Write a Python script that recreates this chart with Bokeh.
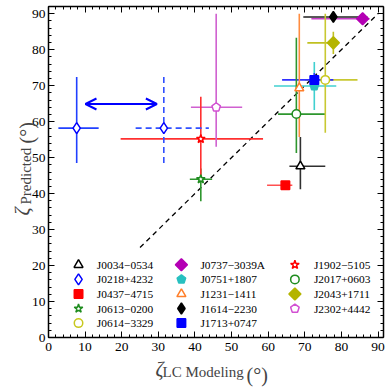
import numpy as np
from bokeh.plotting import figure
from bokeh.models import (Range1d, LinearAxis, SingleIntervalTicker, Arrow, OpenHead,
                          Label, CustomJSTickFormatter)
from bokeh.core.properties import value
from bokeh.embed import file_html
from bokeh.resources import INLINE

# ---------------- data ----------------
names = ["J0034\u22120534", "J0218+4232", "J0437\u22124715", "J0613\u22120200", "J0614\u22123329",
         "J0737\u22123039A", "J0751+1807", "J1231\u22121411", "J1614\u22122230", "J1713+0747",
         "J1902\u22125105", "J2017+0603", "J2043+1711", "J2302+4442"]
zeta_lc = [68.8, 7.7, 64.7, 41.6, 75.6, 85.8, 72.6, 68.5, 77.8, 72.6, 41.6, 67.7, 77.8, 45.8]
zeta_lc_lo = [65.8, 2.7, 59.7, 38.6, 70.0, 71.8, 61.6, 67.5, 69.6, 63.8, 19.7, 62.7, 70.7, 38.9]
zeta_lc_hi = [75.6, 13.7, 66.6, 44.7, 84.4, 87.7, 78.6, 69.5, 87.1, 77.8, 58.6, 75.6, 79.2, 52.9]
zeta_pred = [47.6, 58.2, 42.3, 44.0, 71.6, 88.6, 69.9, 69.3, 89.1, 71.6, 55.2, 62.1, 81.9, 64.0]
zeta_pred_lo = [41.2, 48.5, np.nan, 37.9, 56.9, np.nan, 63.2, 55.7, np.nan, 70.0, 44.0, 51.3, 78.8, 53.0]
zeta_pred_hi = [55.7, 72.4, np.nan, 47.0, 90.0, np.nan, 76.6, 90.0, np.nan, 73.5, 66.9, 83.3, 85.0, 90.0]

# alternative (dashed) solution for J0218+4232
alt_x, alt_x_lo, alt_x_hi = [31.5], [23.8], [43.8]
alt_y, alt_y_lo, alt_y_hi = [58.2], [48.5], [72.4]
arrow_x = [10.1, 29.6]
arrow_y = 64.9

diag = [25.0, 90.0]

colors = ["#000000", "#0000ff", "#ff0000", "#1e8c1e", "#c8c81e", "#b400b4", "#28c0c0",
          "#ff7f2a", "#000000", "#0000ff", "#ff0000", "#1e8c1e", "#b4b400", "#d250d2"]
bar_colors = ["#303030", "#2040ff", "#ff5050", "#2e962e", "#c8c832", "#c840c8", "#40d0d0",
              "#ff8c40", "#202020", "#3030ff", "#ff3030", "#2e962e", "#c0c020", "#d060d0"]
markers = ["triangle", "diamond", "square", "star", "circle", "rdiamond", "pentagon",
           "triangle", "diamond", "square", "star", "circle", "rdiamond", "pentagon"]
filled = [False, False, True, False, False, True, True, False, True, True, False, False, True, False]
sizes = [9, 11, 8.5, 9, 8.5, 8.5, 4.5, 9, 11, 8.5, 9, 8.5, 8.5, 4.5]

XMAX, YMAX = 91.5, 92.0
W, H = 390, 387
# plot box in canvas pixels
PL, PR, PT, PB = 48, 383, 6, 337
SX, SY = (PR - PL) / XMAX, (PB - PT) / YMAX   # pixels per data unit
x_range = Range1d(-PL / SX, XMAX + (W - PR) / SX)
y_range = Range1d(-(H - PB) / SY, YMAX + PT / SY)

FONT = "Liberation Serif"

p = figure(width=W, height=H, x_range=x_range, y_range=y_range, title=None,
           output_backend="svg", toolbar_location=None, min_border=0,
           x_axis_location=None, y_axis_location=None)
p.grid.visible = False
p.outline_line_color = None
p.background_fill_color = "white"
p.border_fill_color = "white"


def make_axis(loc, bounds, labels=True, standoff=0):
    ax = LinearAxis(fixed_location=loc, bounds=bounds, major_label_standoff=standoff)
    ax.ticker = SingleIntervalTicker(interval=10, num_minor_ticks=5)
    ax.axis_line_width = 1.5
    ax.major_tick_in = 6
    ax.major_tick_out = 0
    ax.minor_tick_in = 3
    ax.minor_tick_out = 0
    ax.major_tick_line_width = 1
    ax.minor_tick_line_width = 1
    ax.major_label_text_font = FONT
    ax.major_label_text_font_size = "13.5px"
    ax.major_label_text_color = "black"
    if not labels:
        ax.formatter = CustomJSTickFormatter(code="return ''")
        ax.major_label_text_font_size = "1px"
    return ax


p.add_layout(make_axis(0, (0, XMAX), True, 5), "below")
p.add_layout(make_axis(0, (0, YMAX), True, 3), "left")
p.add_layout(make_axis(YMAX, (0, XMAX), False), "above")
p.add_layout(make_axis(XMAX, (0, YMAX), False), "right")

# diagonal
p.line(diag, diag, line_color="black", line_width=1.3, line_dash="5 4")

# error bars
p.segment(zeta_lc_lo, zeta_pred, zeta_lc_hi, zeta_pred, line_color=bar_colors, line_width=1.6)
p.segment(zeta_lc, zeta_pred_lo, zeta_lc, zeta_pred_hi, line_color=bar_colors, line_width=1.6)
p.segment(alt_x_lo, alt_y, alt_x_hi, alt_y, line_color="#3050ff", line_width=1.6, line_dash="6 4")
p.segment(alt_x, alt_y_lo, alt_x, alt_y_hi, line_color="#3050ff", line_width=1.6, line_dash="6 4")

p.add_layout(Arrow(start=OpenHead(size=11, line_color="#0000ff", line_width=2),
                   end=OpenHead(size=11, line_color="#0000ff", line_width=2),
                   x_start=arrow_x[0], y_start=arrow_y, x_end=arrow_x[1], y_end=arrow_y,
                   line_color="#0000ff", line_width=2))


def draw_marker(mx, my, kind, color, fill, size):
    fc = color if fill else "white"
    if kind == "pentagon":
        ang = np.pi / 2 + 2 * np.pi * np.arange(5) / 5
        xs = list(mx + size * np.cos(ang) / SX)
        ys = list(my + size * np.sin(ang) / SY)
        p.patch(xs, ys, fill_color=fc, line_color=color, line_width=1.5)
    elif kind == "rdiamond":
        p.scatter([mx], [my], marker="square", angle=np.pi / 4, size=size,
                  fill_color=fc, line_color=color, line_width=1.5)
    else:
        p.scatter([mx], [my], marker=kind, size=size, fill_color=fc,
                  line_color=color, line_width=1.5)


draw_marker(alt_x[0], alt_y[0], "diamond", "#0000ff", False, 11)
for i in range(len(names)):
    draw_marker(zeta_lc[i], zeta_pred[i], markers[i], colors[i], filled[i], sizes[i])

# legend (3 columns x 5 rows)
LEG_MX = [8.2, 36.3, 67.3]
LEG_TX = [13.2, 41.5, 72.5]
LEG_Y0, LEG_DY = 20.2, 4.05
tx, ty = [], []
for i, n in enumerate(names):
    c, r = i // 5, i % 5
    draw_marker(LEG_MX[c], LEG_Y0 - r * LEG_DY, markers[i], colors[i], filled[i], sizes[i])
    tx.append(LEG_TX[c])
    ty.append(LEG_Y0 - r * LEG_DY)
p.text(tx, ty, text=names, text_font=value(FONT), text_font_size="11.4px",
       text_baseline="middle", text_align="left", text_color="black")


# axis labels composed of pieces (data coords from pixel positions)
def dx(px):
    return (px - PL) / SX


def dy(py):
    return (PB - py) / SY


p.add_layout(Label(x=dx(155), y=dy(368), text="\u03b6", text_font=FONT, text_font_style="italic",
                   text_font_size="20px", text_baseline="alphabetic"))
p.add_layout(Label(x=dx(162), y=dy(371), text="LC Modeling", text_font=FONT,
                   text_font_size="15px", text_baseline="alphabetic"))
p.add_layout(Label(x=dx(246), y=dy(374), text="(\u00b0)", text_font=FONT,
                   text_font_size="20px", text_baseline="alphabetic"))

p.add_layout(Label(x=dx(21), y=dy(215), text="\u03b6", text_font=FONT, text_font_style="italic",
                   text_font_size="20px", text_baseline="alphabetic", angle=np.pi / 2))
p.add_layout(Label(x=dx(25), y=dy(204), text="Predicted", text_font=FONT,
                   text_font_size="15px", text_baseline="alphabetic", angle=np.pi / 2))
p.add_layout(Label(x=dx(26), y=dy(143), text="(\u00b0)", text_font=FONT,
                   text_font_size="20px", text_baseline="alphabetic", angle=np.pi / 2))

open("out.html", "w").write(file_html(p, INLINE))
